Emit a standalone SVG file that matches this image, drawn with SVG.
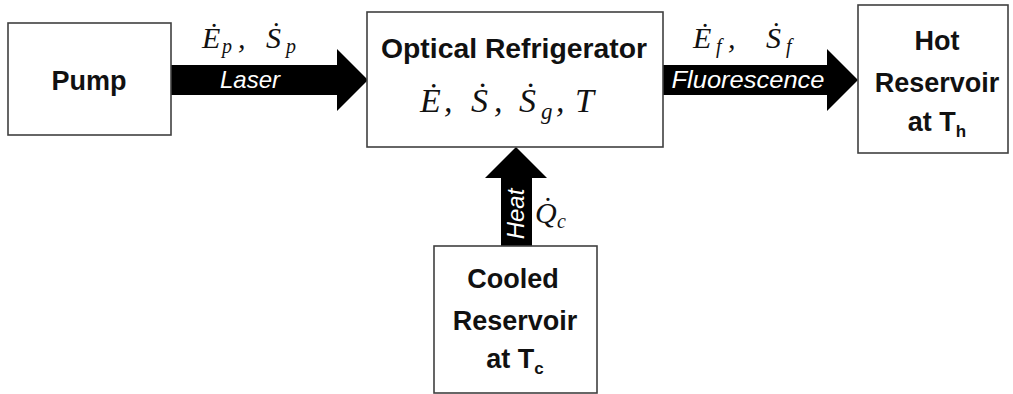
<svg xmlns="http://www.w3.org/2000/svg" width="1013" height="394" viewBox="0 0 1013 394">
<style>
.box{fill:#fff;stroke:#404040;stroke-width:1.6}
.lbl{font-family:"Liberation Sans",Arial,sans-serif;font-weight:bold;font-size:27px;fill:#111;text-anchor:middle}
.flow{font-family:"Liberation Sans",Arial,sans-serif;font-style:italic;font-size:24px;fill:#fff;text-anchor:middle}
.math{font-family:"Liberation Serif","Times New Roman",serif;font-style:italic;font-size:30px;fill:#111}
.sub{font-size:20px}
.arrow{fill:#000}
</style>
<rect width="1013" height="394" fill="#fff"/>
<g id="connectors">
  <path class="arrow" d="M171,65 H337 V49 L368,80 L337,111 V95 H171 Z"/>
  <path class="arrow" d="M663,65 H827 V49 L858,80 L827,111 V95 H663 Z"/>
  <path class="arrow" d="M501,246 V178 H485 L516,147 L547,178 H532 V246 Z"/>
  <text class="flow" x="250" y="88">Laser</text>
  <text class="flow" x="748" y="88" textLength="153" lengthAdjust="spacingAndGlyphs">Fluorescence</text>
  <text class="flow" transform="translate(524,214) rotate(-90)">Heat</text>
  <text class="math" x="202" y="48">Ė</text><text class="math sub" x="222" y="53">p</text><text class="math" x="238" y="48">,</text>
  <text class="math" x="266" y="48">Ṡ</text><text class="math sub" x="286" y="53">p</text>
  <text class="math" x="693" y="48">Ė</text><text class="math sub" x="716" y="53">f</text><text class="math" x="728" y="48">,</text>
  <text class="math" x="766" y="48">Ṡ</text><text class="math sub" x="786" y="53">f</text>
  <text class="math" x="535" y="223">Q̇</text><text class="math sub" x="557" y="228">c</text>
</g>
<g id="pump">
  <rect class="box" x="8" y="23" width="163" height="112"/>
  <text class="lbl" x="89" y="90">Pump</text>
</g>
<g id="refrigerator">
  <rect class="box" x="367" y="12" width="296" height="135"/>
  <text class="lbl" x="514" y="58" textLength="266" lengthAdjust="spacingAndGlyphs">Optical Refrigerator</text>
  <g class="math" style="font-size:34px">
    <text x="420" y="112">Ė</text><text x="444" y="112">,</text>
    <text x="471" y="112">Ṡ</text><text x="494" y="112">,</text>
    <text x="519" y="112">Ṡ</text><text x="541" y="119" style="font-size:23px">g</text><text x="556" y="112">,</text>
    <text x="575" y="112">T</text>
  </g>
</g>
<g id="hot-reservoir">
  <rect class="box" x="858" y="5" width="150" height="148"/>
  <text class="lbl" x="937" y="50">Hot</text>
  <text class="lbl" x="937" y="92">Reservoir</text>
  <text class="lbl" x="937" y="131">at T<tspan style="font-size:17px" dy="6">h</tspan></text>
</g>
<g id="cooled-reservoir">
  <rect class="box" x="434" y="246" width="163" height="147"/>
  <text class="lbl" x="513" y="288">Cooled</text>
  <text class="lbl" x="515" y="330">Reservoir</text>
  <text class="lbl" x="515" y="368">at T<tspan style="font-size:17px" dy="6">c</tspan></text>
</g>
</svg>
